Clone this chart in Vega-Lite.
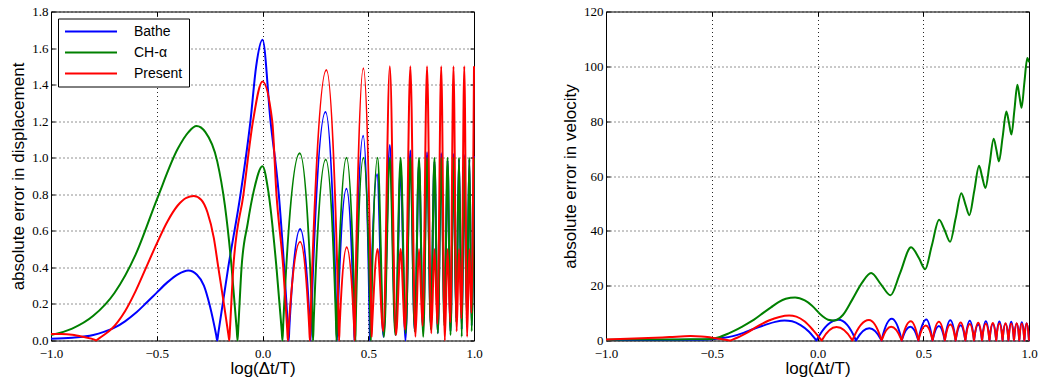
{
  "$schema": "https://vega.github.io/schema/vega-lite/v6.json",
  "padding": {"left": 9, "top": 4.5, "right": 2, "bottom": 2},
  "bounds": "flush",
  "spacing": 132,
  "background": "#ffffff",
  "config": {
    "view": {"stroke": "#000000", "strokeWidth": 1},
    "axis": {
      "domain": false, "grid": true, "gridColor": "#000000", "gridDash": [1, 3], "gridWidth": 1, "gridOpacity": 0.85,
      "ticks": true, "tickColor": "#000000", "tickSize": -4, "tickWidth": 1, "labelPadding": 7, "labelFlush": false, "labelOverlap": false,
      "labelFont": "Liberation Serif", "labelFontSize": 13, "labelColor": "#000000",
      "labelExpr": "replace(datum.label, '-', '−')",
      "titleFont": "Liberation Sans", "titleFontSize": 17, "titleFontWeight": "normal", "titleColor": "#000000"
    },
    "axisX": {"titlePadding": 0, "labelPadding": 11},
    "axisY": {"titlePadding": 4},
    "legend": {
      "orient": "top-left", "offset": 7, "symbolType": "stroke", "symbolSize": 2704, "symbolStrokeWidth": 2,
      "clipHeight": 14, "rowPadding": 7, "labelOffset": 16, "labelFont": "Liberation Sans", "labelFontSize": 14,
      "labelColor": "#000000", "padding": 6, "fillColor": "#ffffff", "strokeColor": "#000000", "strokeWidth": 1, "cornerRadius": 0
    },
    "line": {"strokeWidth": 2, "interpolate": "monotone", "clip": true}
  },
  "datasets": {
    "disp": [
      {"s":"Bathe","x":-1,"y":0.01},{"s":"Bathe","x":-0.9,"y":0.015},{"s":"Bathe","x":-0.8,"y":0.03},{"s":"Bathe","x":-0.75,"y":0.047},{"s":"Bathe","x":-0.7,"y":0.07},{"s":"Bathe","x":-0.65,"y":0.105},{"s":"Bathe","x":-0.6,"y":0.15},{"s":"Bathe","x":-0.55,"y":0.205},{"s":"Bathe","x":-0.5,"y":0.262},{"s":"Bathe","x":-0.45,"y":0.318},{"s":"Bathe","x":-0.4,"y":0.362},{"s":"Bathe","x":-0.351,"y":0.383},{"s":"Bathe","x":-0.31,"y":0.36},{"s":"Bathe","x":-0.277,"y":0.3},{"s":"Bathe","x":-0.249,"y":0.19},{"s":"Bathe","x":-0.219,"y":0.03},{"s":"Bathe","x":-0.214,"y":0},{"s":"Bathe","x":-0.209,"y":0.04},
      {"s":"Bathe","x":-0.162,"y":0.4},{"s":"Bathe","x":-0.104,"y":0.8},{"s":"Bathe","x":-0.057,"y":1.2},{"s":"Bathe","x":-0.03,"y":1.5},{"s":"Bathe","x":0,"y":1.645},{"s":"Bathe","x":0.038,"y":1.2},{"s":"Bathe","x":0.077,"y":0.8},{"s":"Bathe","x":0.1025,"y":0.4},{"s":"Bathe","x":0.121,"y":0.06},{"s":"Bathe","x":0.124,"y":0},{"s":"Bathe","x":0.127,"y":0.07},
      {"s":"Bathe","x":0.178,"y":0.61},{"s":"Bathe","x":0.224,"y":0.075},{"s":"Bathe","x":0.227,"y":0},{"s":"Bathe","x":0.23,"y":0.105},
      {"s":"Bathe","x":0.298,"y":1.25},{"s":"Bathe","x":0.349,"y":0.14},{"s":"Bathe","x":0.352,"y":0},{"s":"Bathe","x":0.355,"y":0.11},
      {"s":"Bathe","x":0.397,"y":0.83},{"s":"Bathe","x":0.433,"y":0.09},{"s":"Bathe","x":0.435,"y":0},{"s":"Bathe","x":0.437,"y":0.11},
      {"s":"Bathe","x":0.476,"y":1.12},{"s":"Bathe","x":0.5065,"y":0.1},{"s":"Bathe","x":0.508,"y":0},{"s":"Bathe","x":0.5095,"y":0.08},
      {"s":"Bathe","x":0.542,"y":0.91},{"s":"Bathe","x":0.572,"y":0.02},{"s":"Bathe","x":0.602,"y":1.07},{"s":"Bathe","x":0.63,"y":0.03},{"s":"Bathe","x":0.653,"y":0.95},{"s":"Bathe","x":0.676,"y":0},{"s":"Bathe","x":0.699,"y":1.04},{"s":"Bathe","x":0.72,"y":0.05},
      {"s":"Bathe","x":0.74,"y":0.97},{"s":"Bathe","x":0.759,"y":0.06},{"s":"Bathe","x":0.778,"y":1.03},{"s":"Bathe","x":0.796,"y":0.08},{"s":"Bathe","x":0.813,"y":0.98},{"s":"Bathe","x":0.829,"y":0.04},{"s":"Bathe","x":0.845,"y":1.025},{"s":"Bathe","x":0.861,"y":0.1},{"s":"Bathe","x":0.875,"y":0.985},{"s":"Bathe","x":0.889,"y":0.05},{"s":"Bathe","x":0.903,"y":1.02},{"s":"Bathe","x":0.916,"y":0.12},{"s":"Bathe","x":0.929,"y":0.99},{"s":"Bathe","x":0.942,"y":0.06},{"s":"Bathe","x":0.954,"y":1.015},{"s":"Bathe","x":0.966,"y":0.14},{"s":"Bathe","x":0.978,"y":0.99},{"s":"Bathe","x":0.989,"y":0.08},{"s":"Bathe","x":1.0,"y":1.01},

      {"s":"CH-α","x":-1,"y":0.03},{"s":"CH-α","x":-0.9,"y":0.065},{"s":"CH-α","x":-0.8,"y":0.135},{"s":"CH-α","x":-0.7,"y":0.26},{"s":"CH-α","x":-0.6,"y":0.47},{"s":"CH-α","x":-0.5,"y":0.77},{"s":"CH-α","x":-0.4,"y":1.05},{"s":"CH-α","x":-0.35,"y":1.14},{"s":"CH-α","x":-0.312,"y":1.173},{"s":"CH-α","x":-0.27,"y":1.14},{"s":"CH-α","x":-0.214,"y":0.98},{"s":"CH-α","x":-0.178,"y":0.74},{"s":"CH-α","x":-0.146,"y":0.4},{"s":"CH-α","x":-0.122,"y":0.06},{"s":"CH-α","x":-0.118,"y":0},{"s":"CH-α","x":-0.114,"y":0.08},
      {"s":"CH-α","x":-0.099,"y":0.4},{"s":"CH-α","x":-0.07,"y":0.64},{"s":"CH-α","x":-0.041,"y":0.82},{"s":"CH-α","x":0,"y":0.954},{"s":"CH-α","x":0.027,"y":0.82},{"s":"CH-α","x":0.066,"y":0.4},{"s":"CH-α","x":0.091,"y":0.05},{"s":"CH-α","x":0.0945,"y":0},{"s":"CH-α","x":0.098,"y":0.09},
      {"s":"CH-α","x":0.176,"y":1.025},{"s":"CH-α","x":0.236,"y":0.1},{"s":"CH-α","x":0.239,"y":0},{"s":"CH-α","x":0.242,"y":0.1},
      {"s":"CH-α","x":0.299,"y":0.99},{"s":"CH-α","x":0.347,"y":0.12},{"s":"CH-α","x":0.35,"y":0},{"s":"CH-α","x":0.353,"y":0.13},
      {"s":"CH-α","x":0.397,"y":1.0},{"s":"CH-α","x":0.437,"y":0.095},{"s":"CH-α","x":0.439,"y":0},{"s":"CH-α","x":0.441,"y":0.105},
      {"s":"CH-α","x":0.477,"y":1.0},{"s":"CH-α","x":0.51,"y":0.114},{"s":"CH-α","x":0.512,"y":0},{"s":"CH-α","x":0.514,"y":0.124},
      {"s":"CH-α","x":0.544,"y":1.0},{"s":"CH-α","x":0.574,"y":0.02},{"s":"CH-α","x":0.602,"y":1.0},{"s":"CH-α","x":0.628,"y":0.03},
      {"s":"CH-α","x":0.653,"y":1.0},{"s":"CH-α","x":0.677,"y":0.04},{"s":"CH-α","x":0.699,"y":1.0},{"s":"CH-α","x":0.72,"y":0.05},{"s":"CH-α","x":0.74,"y":1.0},{"s":"CH-α","x":0.76,"y":0.02},{"s":"CH-α","x":0.778,"y":1.0},{"s":"CH-α","x":0.796,"y":0.06},{"s":"CH-α","x":0.813,"y":1.0},{"s":"CH-α","x":0.829,"y":0.04},{"s":"CH-α","x":0.845,"y":1.0},{"s":"CH-α","x":0.86,"y":0.08},{"s":"CH-α","x":0.875,"y":1.0},{"s":"CH-α","x":0.889,"y":0.03},{"s":"CH-α","x":0.903,"y":1.0},{"s":"CH-α","x":0.916,"y":0.1},{"s":"CH-α","x":0.929,"y":1.0},{"s":"CH-α","x":0.942,"y":0.02},{"s":"CH-α","x":0.954,"y":1.0},{"s":"CH-α","x":0.966,"y":0.12},{"s":"CH-α","x":0.978,"y":1.0},{"s":"CH-α","x":0.989,"y":0.05},{"s":"CH-α","x":1.0,"y":1.0},

      {"s":"Present","x":-1,"y":0.035},{"s":"Present","x":-0.95,"y":0.035},{"s":"Present","x":-0.9,"y":0.031},{"s":"Present","x":-0.85,"y":0.02},{"s":"Present","x":-0.792,"y":0.003},{"s":"Present","x":-0.787,"y":0},{"s":"Present","x":-0.782,"y":0.004},{"s":"Present","x":-0.75,"y":0.03},{"s":"Present","x":-0.713,"y":0.064},{"s":"Present","x":-0.65,"y":0.16},{"s":"Present","x":-0.6,"y":0.27},{"s":"Present","x":-0.55,"y":0.4},{"s":"Present","x":-0.5,"y":0.53},{"s":"Present","x":-0.45,"y":0.65},{"s":"Present","x":-0.4,"y":0.74},{"s":"Present","x":-0.36,"y":0.78},{"s":"Present","x":-0.325,"y":0.79},{"s":"Present","x":-0.29,"y":0.77},{"s":"Present","x":-0.26,"y":0.7},{"s":"Present","x":-0.23,"y":0.56},{"s":"Present","x":-0.209,"y":0.4},{"s":"Present","x":-0.185,"y":0.22},{"s":"Present","x":-0.161,"y":0.03},{"s":"Present","x":-0.157,"y":0},{"s":"Present","x":-0.154,"y":0.06},
      {"s":"Present","x":-0.138,"y":0.4},{"s":"Present","x":-0.09,"y":0.8},{"s":"Present","x":-0.045,"y":1.2},{"s":"Present","x":0,"y":1.417},{"s":"Present","x":0.046,"y":1.2},{"s":"Present","x":0.066,"y":0.8},{"s":"Present","x":0.098,"y":0.4},{"s":"Present","x":0.117,"y":0.055},{"s":"Present","x":0.12,"y":0},{"s":"Present","x":0.123,"y":0.056},
      {"s":"Present","x":0.178,"y":0.54},{"s":"Present","x":0.221,"y":0.07},{"s":"Present","x":0.224,"y":0},{"s":"Present","x":0.227,"y":0.114},
      {"s":"Present","x":0.302,"y":1.48},{"s":"Present","x":0.359,"y":0.15},{"s":"Present","x":0.362,"y":0},{"s":"Present","x":0.365,"y":0.085},
      {"s":"Present","x":0.398,"y":0.51},{"s":"Present","x":0.434,"y":0.054},{"s":"Present","x":0.436,"y":0},{"s":"Present","x":0.438,"y":0.146},
      {"s":"Present","x":0.477,"y":1.49},{"s":"Present","x":0.514,"y":0.16},{"s":"Present","x":0.516,"y":0.02},{"s":"Present","x":0.518,"y":0.07},
      {"s":"Present","x":0.544,"y":0.5},{"s":"Present","x":0.571,"y":0.05},{"s":"Present","x":0.602,"y":1.5},{"s":"Present","x":0.631,"y":0.03},{"s":"Present","x":0.653,"y":0.5},{"s":"Present","x":0.674,"y":0.06},
      {"s":"Present","x":0.699,"y":1.5},{"s":"Present","x":0.723,"y":0.02},{"s":"Present","x":0.74,"y":0.5},{"s":"Present","x":0.757,"y":0.08},
      {"s":"Present","x":0.778,"y":1.5},{"s":"Present","x":0.798,"y":0.04},{"s":"Present","x":0.813,"y":0.5},{"s":"Present","x":0.827,"y":0.09},{"s":"Present","x":0.845,"y":1.5},{"s":"Present","x":0.862,"y":0.0},{"s":"Present","x":0.875,"y":0.5},{"s":"Present","x":0.888,"y":0.1},{"s":"Present","x":0.903,"y":1.5},{"s":"Present","x":0.918,"y":0.05},{"s":"Present","x":0.929,"y":0.5},{"s":"Present","x":0.9405,"y":0.12},{"s":"Present","x":0.954,"y":1.5},{"s":"Present","x":0.9675,"y":0.02},{"s":"Present","x":0.978,"y":0.5},{"s":"Present","x":0.9877,"y":0.15},{"s":"Present","x":1.0,"y":1.5}
    ],
    "vel": [
      {"s":"Bathe","x":-1,"y":0.15},{"s":"Bathe","x":-0.8,"y":0.15},{"s":"Bathe","x":-0.6,"y":0.25},{"s":"Bathe","x":-0.5,"y":0.5},{"s":"Bathe","x":-0.45,"y":0.9},{"s":"Bathe","x":-0.4,"y":1.6},{"s":"Bathe","x":-0.35,"y":2.8},{"s":"Bathe","x":-0.3,"y":4.3},{"s":"Bathe","x":-0.25,"y":5.6},{"s":"Bathe","x":-0.2,"y":6.8},{"s":"Bathe","x":-0.156,"y":7.3},{"s":"Bathe","x":-0.12,"y":7.0},{"s":"Bathe","x":-0.08,"y":5.6},{"s":"Bathe","x":-0.04,"y":3.2},{"s":"Bathe","x":-0.007,"y":0.18},{"s":"Bathe","x":-0.005,"y":0},{"s":"Bathe","x":-0.003,"y":0.29},
      {"s":"Bathe","x":0.099,"y":7.6},{"s":"Bathe","x":0.18,"y":0.37},{"s":"Bathe","x":0.182,"y":0},{"s":"Bathe","x":0.184,"y":0.3},
      {"s":"Bathe","x":0.245,"y":4.5},{"s":"Bathe","x":0.301,"y":0.3},{"s":"Bathe","x":0.303,"y":0},{"s":"Bathe","x":0.305,"y":0.66},
      {"s":"Bathe","x":0.351,"y":7.9},{"s":"Bathe","x":0.396,"y":0.66},{"s":"Bathe","x":0.398,"y":0},{"s":"Bathe","x":0.4,"y":0.5},
      {"s":"Bathe","x":0.439,"y":5.0},{"s":"Bathe","x":0.475,"y":0.5},{"s":"Bathe","x":0.477,"y":0},{"s":"Bathe","x":0.479,"y":0.9},
      {"s":"Bathe","x":0.515,"y":7.7},{"s":"Bathe","x":0.542,"y":0.9},{"s":"Bathe","x":0.544,"y":0},{"s":"Bathe","x":0.545,"y":0.37},
      {"s":"Bathe","x":0.574,"y":5.3},{"s":"Bathe","x":0.601,"y":0.37},{"s":"Bathe","x":0.602,"y":0},{"s":"Bathe","x":0.603,"y":0.58},
      {"s":"Bathe","x":0.628,"y":7.4},{"s":"Bathe","x":0.652,"y":0.58},{"s":"Bathe","x":0.653,"y":0},{"s":"Bathe","x":0.654,"y":0.49},
      {"s":"Bathe","x":0.677,"y":5.6},{"s":"Bathe","x":0.698,"y":0.49},{"s":"Bathe","x":0.699,"y":0},{"s":"Bathe","x":0.7,"y":0.7},
      {"s":"Bathe","x":0.72,"y":7.2},{"s":"Bathe","x":0.739,"y":0.7},{"s":"Bathe","x":0.74,"y":0},{"s":"Bathe","x":0.741,"y":0.61},
      {"s":"Bathe","x":0.76,"y":5.8},{"s":"Bathe","x":0.777,"y":0.61},{"s":"Bathe","x":0.778,"y":0},{"s":"Bathe","x":0.779,"y":0.8},
      {"s":"Bathe","x":0.796,"y":7.0},{"s":"Bathe","x":0.812,"y":0.8},{"s":"Bathe","x":0.813,"y":0},{"s":"Bathe","x":0.814,"y":0.75},
      {"s":"Bathe","x":0.829,"y":6.0},{"s":"Bathe","x":0.844,"y":0.75},{"s":"Bathe","x":0.845,"y":0},{"s":"Bathe","x":0.846,"y":0.92},
      {"s":"Bathe","x":0.86,"y":6.9},{"s":"Bathe","x":0.874,"y":0.92},{"s":"Bathe","x":0.875,"y":0},{"s":"Bathe","x":0.876,"y":0.87},
      {"s":"Bathe","x":0.889,"y":6.1},{"s":"Bathe","x":0.902,"y":0.87},{"s":"Bathe","x":0.903,"y":0},{"s":"Bathe","x":0.904,"y":1.05},
      {"s":"Bathe","x":0.916,"y":6.8},{"s":"Bathe","x":0.928,"y":1.05},{"s":"Bathe","x":0.929,"y":0},{"s":"Bathe","x":0.93,"y":0.99},
      {"s":"Bathe","x":0.942,"y":6.2},{"s":"Bathe","x":0.953,"y":0.99},{"s":"Bathe","x":0.954,"y":0},{"s":"Bathe","x":0.955,"y":1.12},
      {"s":"Bathe","x":0.966,"y":6.7},{"s":"Bathe","x":0.977,"y":1.12},{"s":"Bathe","x":0.978,"y":0},{"s":"Bathe","x":0.979,"y":1.15},
      {"s":"Bathe","x":0.989,"y":6.3},{"s":"Bathe","x":0.999,"y":1.15},{"s":"Bathe","x":1.0,"y":0},

      {"s":"CH-α","x":-1,"y":0.3},{"s":"CH-α","x":-0.9,"y":0.33},{"s":"CH-α","x":-0.8,"y":0.37},{"s":"CH-α","x":-0.7,"y":0.4},{"s":"CH-α","x":-0.6,"y":0.42},{"s":"CH-α","x":-0.52,"y":0.5},{"s":"CH-α","x":-0.47,"y":1.1},{"s":"CH-α","x":-0.42,"y":2.6},{"s":"CH-α","x":-0.358,"y":5.0},{"s":"CH-α","x":-0.3,"y":7.6},{"s":"CH-α","x":-0.263,"y":9.7},{"s":"CH-α","x":-0.22,"y":12.1},{"s":"CH-α","x":-0.184,"y":14.0},{"s":"CH-α","x":-0.15,"y":15.2},{"s":"CH-α","x":-0.106,"y":15.7},{"s":"CH-α","x":-0.06,"y":14.6},{"s":"CH-α","x":-0.027,"y":12.8},{"s":"CH-α","x":0.02,"y":9.1},{"s":"CH-α","x":0.05,"y":7.6},{"s":"CH-α","x":0.08,"y":7.3},{"s":"CH-α","x":0.12,"y":9.3},{"s":"CH-α","x":0.165,"y":15},{"s":"CH-α","x":0.21,"y":21},{"s":"CH-α","x":0.2535,"y":24.6},{"s":"CH-α","x":0.3,"y":20.5},{"s":"CH-α","x":0.345,"y":16.5},{"s":"CH-α","x":0.39,"y":24.5},{"s":"CH-α","x":0.4425,"y":34},{"s":"CH-α","x":0.48,"y":30},{"s":"CH-α","x":0.509,"y":26},{"s":"CH-α","x":0.54,"y":34.5},{"s":"CH-α","x":0.575,"y":44},{"s":"CH-α","x":0.6,"y":40.5},{"s":"CH-α","x":0.627,"y":36},{"s":"CH-α","x":0.653,"y":44.5},{"s":"CH-α","x":0.68,"y":53.7},{"s":"CH-α","x":0.7,"y":49.5},{"s":"CH-α","x":0.718,"y":45.7},{"s":"CH-α","x":0.741,"y":54.5},{"s":"CH-α","x":0.764,"y":63.7},{"s":"CH-α","x":0.779,"y":59.5},{"s":"CH-α","x":0.794,"y":55.6},{"s":"CH-α","x":0.813,"y":64},{"s":"CH-α","x":0.833,"y":73.6},{"s":"CH-α","x":0.846,"y":69.5},{"s":"CH-α","x":0.858,"y":65.3},{"s":"CH-α","x":0.875,"y":74},{"s":"CH-α","x":0.893,"y":83.5},{"s":"CH-α","x":0.905,"y":79.5},{"s":"CH-α","x":0.917,"y":75.1},{"s":"CH-α","x":0.931,"y":84},{"s":"CH-α","x":0.945,"y":93.3},{"s":"CH-α","x":0.955,"y":89},{"s":"CH-α","x":0.965,"y":84.9},{"s":"CH-α","x":0.978,"y":94},{"s":"CH-α","x":0.992,"y":103},{"s":"CH-α","x":1.0,"y":101.5},

      {"s":"Present","x":-1,"y":0.4},{"s":"Present","x":-0.9,"y":0.6},{"s":"Present","x":-0.8,"y":0.9},{"s":"Present","x":-0.7,"y":1.25},{"s":"Present","x":-0.6,"y":1.6},{"s":"Present","x":-0.55,"y":1.5},{"s":"Present","x":-0.5,"y":1.05},{"s":"Present","x":-0.45,"y":0.45},{"s":"Present","x":-0.415,"y":0.025},{"s":"Present","x":-0.413,"y":0},{"s":"Present","x":-0.411,"y":0.06},{"s":"Present","x":-0.38,"y":1.0},{"s":"Present","x":-0.33,"y":3.0},{"s":"Present","x":-0.28,"y":5.3},{"s":"Present","x":-0.23,"y":7.3},{"s":"Present","x":-0.18,"y":8.6},{"s":"Present","x":-0.134,"y":9.1},{"s":"Present","x":-0.1,"y":8.7},{"s":"Present","x":-0.06,"y":6.9},{"s":"Present","x":-0.02,"y":3.7},{"s":"Present","x":0.018,"y":0.185},{"s":"Present","x":0.02,"y":0},{"s":"Present","x":0.022,"y":0.28},
      {"s":"Present","x":0.09,"y":4.9},{"s":"Present","x":0.163,"y":0.26},{"s":"Present","x":0.165,"y":0},{"s":"Present","x":0.167,"y":0.38},
      {"s":"Present","x":0.243,"y":7.5},{"s":"Present","x":0.301,"y":0.5},{"s":"Present","x":0.303,"y":0},{"s":"Present","x":0.305,"y":0.44},
      {"s":"Present","x":0.348,"y":5.0},{"s":"Present","x":0.396,"y":0.4},{"s":"Present","x":0.398,"y":0},{"s":"Present","x":0.4,"y":0.65},
      {"s":"Present","x":0.441,"y":7.0},{"s":"Present","x":0.475,"y":0.78},{"s":"Present","x":0.477,"y":0},{"s":"Present","x":0.479,"y":0.63},
      {"s":"Present","x":0.512,"y":5.5},{"s":"Present","x":0.542,"y":0.69},{"s":"Present","x":0.544,"y":0},{"s":"Present","x":0.545,"y":0.45},
      {"s":"Present","x":0.574,"y":6.8},{"s":"Present","x":0.601,"y":0.49},{"s":"Present","x":0.602,"y":0},{"s":"Present","x":0.603,"y":0.45},
      {"s":"Present","x":0.628,"y":5.8},{"s":"Present","x":0.652,"y":0.46},{"s":"Present","x":0.653,"y":0},{"s":"Present","x":0.654,"y":0.55},
      {"s":"Present","x":0.677,"y":6.6},{"s":"Present","x":0.698,"y":0.6},{"s":"Present","x":0.699,"y":0},{"s":"Present","x":0.7,"y":0.57},
      {"s":"Present","x":0.72,"y":6.0},{"s":"Present","x":0.739,"y":0.6},{"s":"Present","x":0.74,"y":0},{"s":"Present","x":0.741,"y":0.65},
      {"s":"Present","x":0.76,"y":6.5},{"s":"Present","x":0.777,"y":0.72},{"s":"Present","x":0.778,"y":0},{"s":"Present","x":0.779,"y":0.68},
      {"s":"Present","x":0.796,"y":6.1},{"s":"Present","x":0.812,"y":0.72},{"s":"Present","x":0.813,"y":0},{"s":"Present","x":0.814,"y":0.8},
      {"s":"Present","x":0.829,"y":6.4},{"s":"Present","x":0.844,"y":0.8},{"s":"Present","x":0.845,"y":0},{"s":"Present","x":0.846,"y":0.83},
      {"s":"Present","x":0.86,"y":6.2},{"s":"Present","x":0.874,"y":0.83},{"s":"Present","x":0.875,"y":0},{"s":"Present","x":0.876,"y":0.9},
      {"s":"Present","x":0.889,"y":6.3},{"s":"Present","x":0.902,"y":0.9},{"s":"Present","x":0.903,"y":0},{"s":"Present","x":0.904,"y":0.95},
      {"s":"Present","x":0.916,"y":6.2},{"s":"Present","x":0.928,"y":0.95},{"s":"Present","x":0.929,"y":0},{"s":"Present","x":0.93,"y":0.97},
      {"s":"Present","x":0.942,"y":6.3},{"s":"Present","x":0.953,"y":1.05},{"s":"Present","x":0.954,"y":0},{"s":"Present","x":0.955,"y":1.03},
      {"s":"Present","x":0.966,"y":6.2},{"s":"Present","x":0.977,"y":1.03},{"s":"Present","x":0.978,"y":0},{"s":"Present","x":0.979,"y":1.15},
      {"s":"Present","x":0.989,"y":6.3},{"s":"Present","x":0.999,"y":1.15},{"s":"Present","x":1.0,"y":0}
    ]
  },
  "hconcat": [
    {
      "width": 423, "height": 329,
      "data": {"name": "disp"},
      "resolve": {"axis": {"x": "independent", "y": "independent"}},
      "layer": [
        {"transform": [{"filter": "datum.s === 'Bathe'"}], "mark": {"type": "line"},
         "encoding": {
           "x": {"field": "x", "type": "quantitative", "scale": {"domain": [-1, 1], "nice": false, "zero": false},
                 "axis": {"values": [-1, -0.5, 0, 0.5, 1], "format": ".1f", "title": "log(Δt/T)"}},
           "y": {"field": "y", "type": "quantitative", "scale": {"domain": [0, 1.8], "nice": false},
                 "axis": {"values": [0, 0.2, 0.4, 0.6, 0.8, 1.0, 1.2, 1.4, 1.6, 1.8], "format": ".1f", "title": "absolute error in displacement"}},
           "color": {"field": "s", "type": "nominal", "scale": {"domain": ["Bathe", "CH-α", "Present"], "range": ["#0000ff", "#008000", "#ff0000"]}, "legend": {"title": null}}
         }},
        {"transform": [{"filter": "datum.s === 'CH-α'"}], "mark": {"type": "line"},
         "encoding": {
           "x": {"field": "x", "type": "quantitative", "axis": null},
           "y": {"field": "y", "type": "quantitative", "axis": null},
           "color": {"field": "s", "type": "nominal", "legend": {"title": null}}
         }},
        {"transform": [{"filter": "datum.s === 'Present'"}], "mark": {"type": "line"},
         "encoding": {
           "x": {"field": "x", "type": "quantitative", "axis": null},
           "y": {"field": "y", "type": "quantitative", "axis": null},
           "color": {"field": "s", "type": "nominal", "legend": {"title": null}}
         }},
        {"transform": [{"filter": "datum.x > 5"}], "mark": {"type": "point", "opacity": 0},
         "encoding": {
           "x": {"field": "x", "type": "quantitative", "axis": {"orient": "top", "values": [-1, -0.5, 0, 0.5, 1], "labels": false, "grid": false, "title": null}},
           "y": {"field": "y", "type": "quantitative", "axis": {"orient": "right", "values": [0, 0.2, 0.4, 0.6, 0.8, 1.0, 1.2, 1.4, 1.6, 1.8], "labels": false, "grid": false, "title": null}}
         }}
      ]
    },
    {
      "width": 423, "height": 329,
      "data": {"name": "vel"},
      "resolve": {"axis": {"x": "independent", "y": "independent"}},
      "layer": [
        {"transform": [{"filter": "datum.s === 'Bathe'"}], "mark": {"type": "line"},
         "encoding": {
           "x": {"field": "x", "type": "quantitative", "scale": {"domain": [-1, 1], "nice": false, "zero": false},
                 "axis": {"values": [-1, -0.5, 0, 0.5, 1], "format": ".1f", "title": "log(Δt/T)"}},
           "y": {"field": "y", "type": "quantitative", "scale": {"domain": [0, 120], "nice": false},
                 "axis": {"values": [0, 20, 40, 60, 80, 100, 120], "format": "d", "title": "absolute error in velocity"}},
           "color": {"field": "s", "type": "nominal", "scale": {"domain": ["Bathe", "CH-α", "Present"], "range": ["#0000ff", "#008000", "#ff0000"]}, "legend": {"title": null}}
         }},
        {"transform": [{"filter": "datum.s === 'CH-α'"}], "mark": {"type": "line"},
         "encoding": {
           "x": {"field": "x", "type": "quantitative", "axis": null},
           "y": {"field": "y", "type": "quantitative", "axis": null},
           "color": {"field": "s", "type": "nominal", "legend": {"title": null}}
         }},
        {"transform": [{"filter": "datum.s === 'Present'"}], "mark": {"type": "line"},
         "encoding": {
           "x": {"field": "x", "type": "quantitative", "axis": null},
           "y": {"field": "y", "type": "quantitative", "axis": null},
           "color": {"field": "s", "type": "nominal", "legend": {"title": null}}
         }},
        {"transform": [{"filter": "datum.x > 5"}], "mark": {"type": "point", "opacity": 0},
         "encoding": {
           "x": {"field": "x", "type": "quantitative", "axis": {"orient": "top", "values": [-1, -0.5, 0, 0.5, 1], "labels": false, "grid": false, "title": null}},
           "y": {"field": "y", "type": "quantitative", "axis": {"orient": "right", "values": [0, 20, 40, 60, 80, 100, 120], "labels": false, "grid": false, "title": null}}
         }}
      ]
    }
  ]
}
